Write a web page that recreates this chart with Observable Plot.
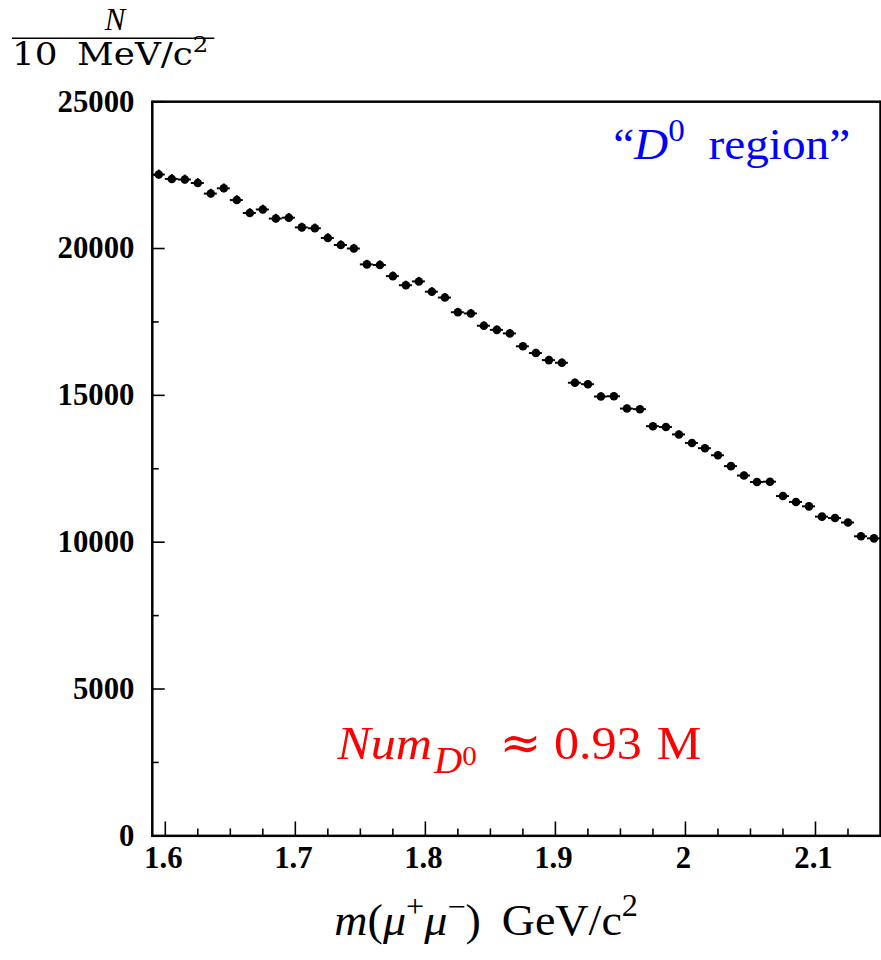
<!DOCTYPE html>
<html>
<head>
<meta charset="utf-8">
<script src="https://cdn.jsdelivr.net/npm/d3@7"></script>
<script src="https://cdn.jsdelivr.net/npm/@observablehq/plot@0.6"></script>
<style>
  html, body { margin: 0; padding: 0; background: white; overflow: hidden; }
  #chart { position: relative; width: 881px; height: 960px; overflow: hidden; }
  svg { display: block; }
</style>
</head>
<body>
<div id="chart"></div>
<script>
// ---- data ----
const masses = [
  1.595, 1.605, 1.615, 1.625, 1.635, 1.645, 1.655, 1.665, 1.675, 1.685,
  1.695, 1.705, 1.715, 1.725, 1.735, 1.745, 1.755, 1.765, 1.775, 1.785,
  1.795, 1.805, 1.815, 1.825, 1.835, 1.845, 1.855, 1.865, 1.875, 1.885,
  1.895, 1.905, 1.915, 1.925, 1.935, 1.945, 1.955, 1.965, 1.975, 1.985,
  1.995, 2.005, 2.015, 2.025, 2.035, 2.045, 2.055, 2.065, 2.075, 2.085,
  2.095, 2.105, 2.115, 2.125, 2.135, 2.145
];
const counts = [
  22520, 22370, 22350, 22230, 21870, 22050, 21650, 21210, 21330, 21020,
  21050, 20720, 20690, 20360, 20120, 20000, 19460, 19440, 19060, 18750,
  18880, 18530, 18330, 17830, 17790, 17370, 17230, 17110, 16670, 16440,
  16200, 16110, 15430, 15380, 14960, 14970, 14550, 14530, 13950, 13920,
  13670, 13380, 13200, 12960, 12590, 12270, 12050, 12060, 11570, 11370,
  11220, 10870, 10820, 10670, 10200, 10130
];
const binWidth = 0.01;
const xDomain = [1.59, 2.15];
const yDomain = [0, 25000];
const xMajorTicks = [1.6, 1.7, 1.8, 1.9, 2.0, 2.1];
const xMinorTicks = [1.625, 1.65, 1.675, 1.725, 1.75, 1.775, 1.825, 1.85, 1.875,
                     1.925, 1.95, 1.975, 2.025, 2.05, 2.075, 2.125];
const yMajorTicks = [0, 5000, 10000, 15000, 20000, 25000];
const yMinorTicks = [2500, 7500, 12500, 17500, 22500];
const xTickLabels = ["1.6", "1.7", "1.8", "1.9", "2", "2.1"];

const data = masses.map((m, i) => ({m, n: counts[i]}));

const chart = Plot.plot({
  width: 888,
  height: 960,
  marginLeft: 153,
  marginRight: 1,
  marginTop: 102,
  marginBottom: 118,
  x: {domain: xDomain, label: null},
  y: {domain: yDomain, label: null},
  style: {
    fontFamily: "'Liberation Serif', 'Times New Roman', serif",
    fontSize: "31px",
    color: "black",
    background: "white",
    overflow: "visible"
  },
  marks: [
    // inward ticks
    Plot.axisY({ticks: yMajorTicks, tickSize: -13, strokeWidth: 1.6, tickFormat: () => "", label: null}),
    Plot.axisY({ticks: yMinorTicks, tickSize: -7, strokeWidth: 1.6, tickFormat: () => "", label: null}),
    Plot.axisX({ticks: xMajorTicks, tickSize: -14, strokeWidth: 1.6, tickFormat: () => "", label: null}),
    Plot.axisX({ticks: xMinorTicks, tickSize: -7, strokeWidth: 1.6, tickFormat: () => "", label: null}),
    // labels
    Plot.axisY({ticks: yMajorTicks, tickSize: 0, tickPadding: 18, tickFormat: d => String(d), fontSize: 31, fontWeight: "bold", label: null}),
    Plot.axisX({ticks: xMajorTicks, tickSize: 0, tickPadding: 10, tickFormat: (d, i) => xTickLabels[i], fontSize: 31, fontWeight: "bold", dx: -2, label: null}),
    Plot.frame({stroke: "black", strokeWidth: 2.5}),
    // error bars
    Plot.ruleY(data, {y: "n", x1: d => d.m - binWidth / 2, x2: d => d.m + binWidth / 2, stroke: "black", strokeWidth: 2}),
    Plot.ruleX(data, {x: "m", y1: d => d.n - Math.sqrt(d.n), y2: d => d.n + Math.sqrt(d.n), stroke: "black", strokeWidth: 2}),
    Plot.dot(data, {x: "m", y: "n", r: 4.3, fill: "black", stroke: "none"})
  ]
});

document.getElementById("chart").appendChild(chart);

// ---- rich text annotations ----
const svg = d3.select(chart);

// parts: {t, italic, shift (em of base size, + = down), scale, dx (em), family}
function rich(parts, {x, y, size, color = "black", width = null, anchor = "start", stretch = 1.1, family = "Liberation Serif"}) {
  const g = svg.append("g");
  const text = g.append("text")
    .attr("font-family", family)
    .attr("font-weight", "normal")
    .attr("fill", color)
    .attr("text-anchor", anchor);
  function build(s) {
    text.selectAll("tspan").remove();
    text.attr("font-size", s);
    let cur = 0;
    for (const p of parts) {
      const shift = (p.shift || 0) * s;
      const ts = text.append("tspan").text(p.t);
      ts.attr("dy", shift - cur);
      cur = shift;
      if (p.italic) ts.attr("font-style", "italic");
      if (p.scale) ts.attr("font-size", s * p.scale);
      if (p.dx) ts.attr("dx", p.dx * s);
      if (p.family) ts.attr("font-family", p.family);
    }
  }
  build(size);
  let sx = 1;
  if (width) {
    const w = text.node().getBBox().width;
    const newSize = size * width / (w * stretch);
    build(newSize);
    const w2 = text.node().getBBox().width;
    sx = width / w2;
  }
  g.attr("transform", `translate(${x},${y}) scale(${sx},1)`);
  return g;
}

// y-axis label (fraction)
rich([{t: "N", italic: true}], {x: 116, y: 30, size: 25, anchor: "middle", family: "Liberation Serif", width: 24, stretch: 1.0});
svg.append("line").attr("x1", 12).attr("x2", 216).attr("y1", 38.5).attr("y2", 38.5)
  .attr("stroke", "black").attr("stroke-width", 1.6);
rich([
  {t: "10"},
  {t: "MeV/c", dx: 0.55},
  {t: "2", shift: -0.4, scale: 0.68}
], {x: 12, y: 66, size: 25, width: 198, stretch: 1.1, family: "DejaVu Serif"});

// x-axis label
rich([
  {t: "m", italic: true},
  {t: "("},
  {t: "μ", italic: true},
  {t: "+", shift: -0.4, scale: 0.7},
  {t: "μ", italic: true},
  {t: "−", shift: -0.4, scale: 0.7},
  {t: ")"},
  {t: "GeV/c", dx: 0.45},
  {t: "2", shift: -0.42, scale: 0.7}
], {x: 337, y: 942, size: 40, width: 306, stretch: 1.05});

// "D0 region"
rich([
  {t: "“"},
  {t: "D", italic: true},
  {t: "0", shift: -0.4, scale: 0.7},
  {t: "region”", dx: 0.5}
], {x: 618, y: 160, size: 38, color: "#0000ff", width: 239, stretch: 1.08});

// Num_{D0} ≈ 0.93 M
rich([
  {t: "Num", italic: true},
  {t: "D", italic: true, shift: 0.3, scale: 0.78, dx: 0.04},
  {t: "0", shift: 0.12, scale: 0.58},
  {t: "≈", dx: 0.45, family: "DejaVu Serif"},
  {t: "0.93", dx: 0.25},
  {t: "M", dx: 0.3}
], {x: 340, y: 765, size: 44, color: "#ff0000", width: 368, stretch: 1.06});
</script>
</body>
</html>
